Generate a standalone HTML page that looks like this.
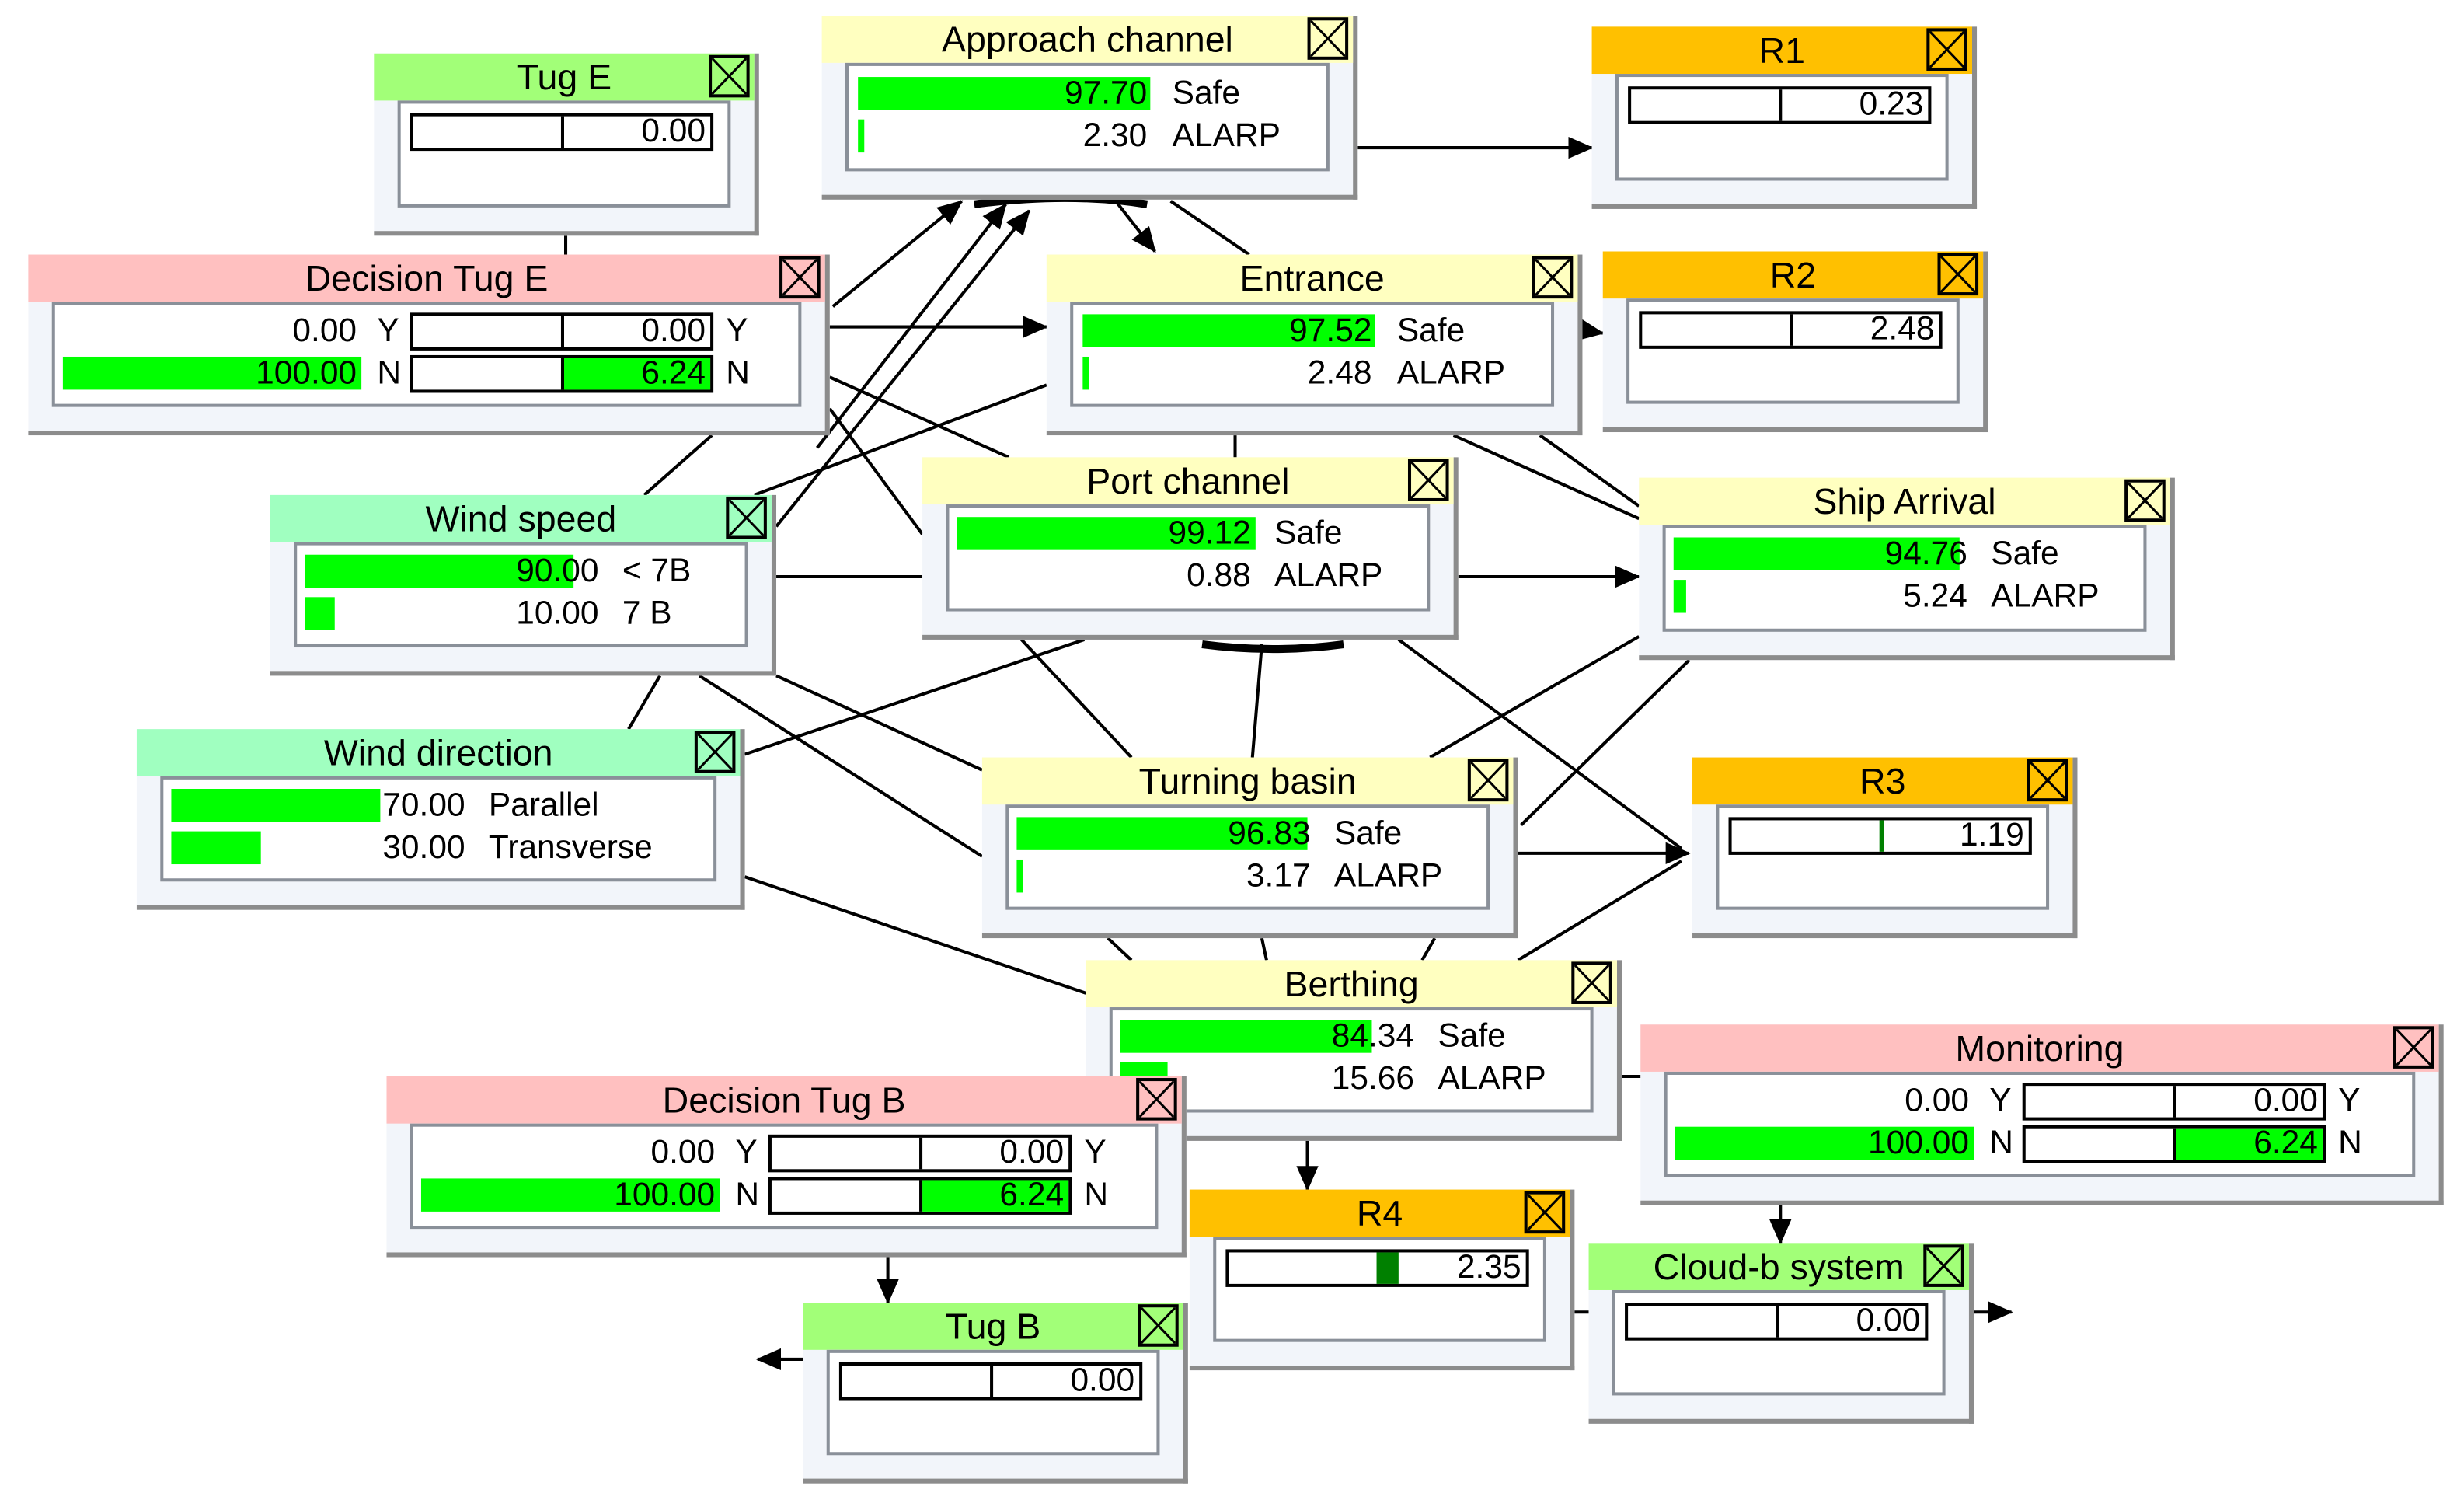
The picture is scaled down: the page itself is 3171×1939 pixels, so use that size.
<!DOCTYPE html>
<html><head><meta charset="utf-8"><style>
html,body{margin:0;padding:0;background:#fff;width:3171px;height:1939px;overflow:hidden}
#c{position:absolute;left:0;top:0;width:1568px;height:959px;transform:scale(2.0223,2.0219);transform-origin:0 0;font-family:"Liberation Sans",sans-serif;color:#000}
.n{position:absolute;background:#f2f5fa;border-right:3px solid #8c8c8c;border-bottom:3px solid #8c8c8c;box-sizing:border-box}
.t{position:absolute;left:0;right:0;top:0;height:30px;font-size:23px;line-height:30px;text-align:center;white-space:nowrap}
.x{position:absolute;right:3px;top:1px;width:26px;height:27px;border:2px solid #000;box-sizing:border-box}
.x svg{position:absolute;left:0;top:0}
.b{position:absolute;left:15px;right:15px;top:30px;bottom:15px;background:#fff;border:2px solid #8a9099;box-sizing:border-box}
.r{position:absolute;height:22px;font-size:21px;line-height:22px;white-space:nowrap}
.g{position:absolute;background:#00ff00}
.num{position:absolute;text-align:right}
.ub{position:absolute;border:2px solid #000;height:24px;box-sizing:border-box;background:#fff}
.ub .d{position:absolute;top:0;bottom:0;width:2px;background:#000}
.ub .v{position:absolute;right:3px;top:0;font-size:21px;line-height:20px}
svg.e{position:absolute;left:0;top:0}
</style></head><body><div id="c">
<svg class="e" width="1568" height="959" viewBox="0 0 1568 959">
<defs><marker id="a" markerWidth="16" markerHeight="16" refX="15" refY="8" orient="auto" markerUnits="userSpaceOnUse"><path d="M0,1 L16,8 L0,15 z" fill="#000"/></marker></defs>
<g stroke="#000" stroke-width="2" fill="none">
<line x1="360" y1="150" x2="360" y2="162"/>
<line x1="530" y1="195" x2="612" y2="128" marker-end="url(#a)"/>
<line x1="528" y1="208" x2="666" y2="208" marker-end="url(#a)"/>
<line x1="528" y1="240" x2="642" y2="291"/>
<line x1="494" y1="335" x2="655" y2="134" marker-end="url(#a)"/>
<line x1="480" y1="315" x2="666" y2="245"/>
<line x1="494" y1="367" x2="587" y2="367"/>
<line x1="410" y1="315" x2="453" y2="277"/>
<line x1="520" y1="285" x2="640" y2="130" marker-end="url(#a)"/>
<line x1="528" y1="260" x2="587" y2="340"/>
<line x1="474" y1="480" x2="690" y2="407"/>
<line x1="400" y1="464" x2="420" y2="430"/>
<line x1="445" y1="430" x2="625" y2="545"/>
<line x1="494" y1="430" x2="625" y2="490"/>
<line x1="474" y1="558" x2="691" y2="632"/>
<line x1="710" y1="128" x2="735" y2="160" marker-end="url(#a)"/>
<line x1="745" y1="128" x2="795" y2="162"/>
<line x1="864" y1="94" x2="1013" y2="94" marker-end="url(#a)"/>
<line x1="1007" y1="210" x2="1020" y2="212" marker-end="url(#a)"/>
<line x1="928" y1="367" x2="1043" y2="367" marker-end="url(#a)"/>
<line x1="925" y1="277" x2="1043" y2="330"/>
<line x1="980" y1="277" x2="1043" y2="322"/>
<line x1="786" y1="277" x2="786" y2="291"/>
<line x1="650" y1="407" x2="720" y2="482"/>
<line x1="803" y1="410" x2="797" y2="482"/>
<line x1="890" y1="407" x2="1070" y2="540"/>
<line x1="910" y1="482" x2="1043" y2="405"/>
<line x1="966" y1="543" x2="1075" y2="543" marker-end="url(#a)"/>
<line x1="968" y1="525" x2="1075" y2="420"/>
<line x1="966" y1="611" x2="1070" y2="548"/>
<line x1="705" y1="597" x2="720" y2="611"/>
<line x1="803" y1="597" x2="806" y2="611"/>
<line x1="913" y1="597" x2="905" y2="611"/>
<line x1="832" y1="726" x2="832" y2="757" marker-end="url(#a)"/>
<line x1="565" y1="800" x2="565" y2="829" marker-end="url(#a)"/>
<line x1="1133" y1="767" x2="1133" y2="791" marker-end="url(#a)"/>
<line x1="1256" y1="835" x2="1280" y2="835" marker-end="url(#a)"/>
<line x1="511" y1="865" x2="482" y2="865" marker-end="url(#a)"/>
<line x1="1002" y1="835" x2="1011" y2="835"/>
<line x1="1032" y1="685" x2="1044" y2="685"/>
</g>
<path d="M620,130 Q680,122 730,130" stroke="#000" stroke-width="5" fill="none"/>
<path d="M765,410 Q810,416 855,410" stroke="#000" stroke-width="5" fill="none"/>
</svg>

<div class="n" style="left:238px;top:34px;width:245px;height:116px"><div class="t" style="background:#a2ff78">Tug E<div class="x"><svg width="22" height="23"><path d="M0,0L22,23M22,0L0,23" stroke="#000" stroke-width="1.5"/></svg></div></div>
<div class="b"><div class="ub" style="left:6px;top:6px;width:193px"><div class="d" style="left:94px"></div><div class="v">0.00</div></div></div></div>

<div class="n" style="left:523px;top:10px;width:341px;height:117px"><div class="t" style="background:#ffffc0">Approach channel<div class="x"><svg width="22" height="23"><path d="M0,0L22,23M22,0L0,23" stroke="#000" stroke-width="1.5"/></svg></div></div>
<div class="b"><div class="g" style="left:6px;top:7px;width:186px;height:21px"></div><div class="g" style="left:6px;top:34px;width:4px;height:21px"></div>
<div class="r num" style="left:0;width:190px;top:7px">97.70</div><div class="r" style="left:206px;top:7px">Safe</div>
<div class="r num" style="left:0;width:190px;top:34px">2.30</div><div class="r" style="left:206px;top:34px">ALARP</div></div></div>

<div class="n" style="left:1013px;top:17px;width:245px;height:116px"><div class="t" style="background:#ffc000">R1<div class="x"><svg width="22" height="23"><path d="M0,0L22,23M22,0L0,23" stroke="#000" stroke-width="1.5"/></svg></div></div>
<div class="b"><div class="ub" style="left:6px;top:6px;width:193px"><div class="d" style="left:94px"></div><div class="v">0.23</div></div></div></div>

<div class="n" style="left:18px;top:162px;width:510px;height:115px"><div class="t" style="background:#ffc0c0">Decision Tug E<div class="x"><svg width="22" height="23"><path d="M0,0L22,23M22,0L0,23" stroke="#000" stroke-width="1.5"/></svg></div></div>
<div class="b"><div class="g" style="left:5px;top:33px;width:190px;height:21px"></div>
<div class="r num" style="left:0;width:192px;top:6px">0.00</div><div class="r" style="left:205px;top:6px">Y</div>
<div class="r num" style="left:0;width:192px;top:33px">100.00</div><div class="r" style="left:205px;top:33px">N</div>
<div class="ub" style="left:226px;top:5px;width:193px"><div class="d" style="left:94px"></div><div class="v">0.00</div></div>
<div class="ub" style="left:226px;top:32px;width:193px"><div class="g" style="left:96px;top:0;right:0;bottom:0"></div><div class="d" style="left:94px"></div><div class="v">6.24</div></div>
<div class="r" style="left:427px;top:6px">Y</div><div class="r" style="left:427px;top:33px">N</div></div></div>

<div class="n" style="left:666px;top:162px;width:341px;height:115px"><div class="t" style="background:#ffffc0">Entrance<div class="x"><svg width="22" height="23"><path d="M0,0L22,23M22,0L0,23" stroke="#000" stroke-width="1.5"/></svg></div></div>
<div class="b"><div class="g" style="left:6px;top:6px;width:186px;height:21px"></div><div class="g" style="left:6px;top:33px;width:4px;height:21px"></div>
<div class="r num" style="left:0;width:190px;top:6px">97.52</div><div class="r" style="left:206px;top:6px">Safe</div>
<div class="r num" style="left:0;width:190px;top:33px">2.48</div><div class="r" style="left:206px;top:33px">ALARP</div></div></div>

<div class="n" style="left:1020px;top:160px;width:245px;height:115px"><div class="t" style="background:#ffc000">R2<div class="x"><svg width="22" height="23"><path d="M0,0L22,23M22,0L0,23" stroke="#000" stroke-width="1.5"/></svg></div></div>
<div class="b"><div class="ub" style="left:6px;top:6px;width:193px"><div class="d" style="left:94px"></div><div class="v">2.48</div></div></div></div>

<div class="n" style="left:172px;top:315px;width:322px;height:115px"><div class="t" style="background:#a0ffc0">Wind speed<div class="x"><svg width="22" height="23"><path d="M0,0L22,23M22,0L0,23" stroke="#000" stroke-width="1.5"/></svg></div></div>
<div class="b"><div class="g" style="left:5px;top:6px;width:171px;height:21px"></div><div class="g" style="left:5px;top:33px;width:19px;height:21px"></div>
<div class="r num" style="left:0;width:192px;top:6px">90.00</div><div class="r" style="left:207px;top:6px">&lt; 7B</div>
<div class="r num" style="left:0;width:192px;top:33px">10.00</div><div class="r" style="left:207px;top:33px">7 B</div></div></div>

<div class="n" style="left:587px;top:291px;width:341px;height:116px"><div class="t" style="background:#ffffc0">Port channel<div class="x"><svg width="22" height="23"><path d="M0,0L22,23M22,0L0,23" stroke="#000" stroke-width="1.5"/></svg></div></div>
<div class="b"><div class="g" style="left:5px;top:6px;width:190px;height:21px"></div>
<div class="r num" style="left:0;width:192px;top:6px">99.12</div><div class="r" style="left:207px;top:6px">Safe</div>
<div class="r num" style="left:0;width:192px;top:33px">0.88</div><div class="r" style="left:207px;top:33px">ALARP</div></div></div>

<div class="n" style="left:1043px;top:304px;width:341px;height:116px"><div class="t" style="background:#ffffc0">Ship Arrival<div class="x"><svg width="22" height="23"><path d="M0,0L22,23M22,0L0,23" stroke="#000" stroke-width="1.5"/></svg></div></div>
<div class="b"><div class="g" style="left:5px;top:6px;width:182px;height:21px"></div><div class="g" style="left:5px;top:33px;width:8px;height:21px"></div>
<div class="r num" style="left:0;width:192px;top:6px">94.76</div><div class="r" style="left:207px;top:6px">Safe</div>
<div class="r num" style="left:0;width:192px;top:33px">5.24</div><div class="r" style="left:207px;top:33px">ALARP</div></div></div>

<div class="n" style="left:87px;top:464px;width:387px;height:115px"><div class="t" style="background:#a0ffc0">Wind direction<div class="x"><svg width="22" height="23"><path d="M0,0L22,23M22,0L0,23" stroke="#000" stroke-width="1.5"/></svg></div></div>
<div class="b"><div class="g" style="left:5px;top:6px;width:133px;height:21px"></div><div class="g" style="left:5px;top:33px;width:57px;height:21px"></div>
<div class="r num" style="left:0;width:192px;top:6px">70.00</div><div class="r" style="left:207px;top:6px">Parallel</div>
<div class="r num" style="left:0;width:192px;top:33px">30.00</div><div class="r" style="left:207px;top:33px">Transverse</div></div></div>

<div class="n" style="left:625px;top:482px;width:341px;height:115px"><div class="t" style="background:#ffffc0">Turning basin<div class="x"><svg width="22" height="23"><path d="M0,0L22,23M22,0L0,23" stroke="#000" stroke-width="1.5"/></svg></div></div>
<div class="b"><div class="g" style="left:5px;top:6px;width:185px;height:21px"></div><div class="g" style="left:5px;top:33px;width:4px;height:21px"></div>
<div class="r num" style="left:0;width:192px;top:6px">96.83</div><div class="r" style="left:207px;top:6px">Safe</div>
<div class="r num" style="left:0;width:192px;top:33px">3.17</div><div class="r" style="left:207px;top:33px">ALARP</div></div></div>

<div class="n" style="left:1077px;top:482px;width:245px;height:115px"><div class="t" style="background:#ffc000">R3<div class="x"><svg width="22" height="23"><path d="M0,0L22,23M22,0L0,23" stroke="#000" stroke-width="1.5"/></svg></div></div>
<div class="b"><div class="ub" style="left:6px;top:6px;width:193px"><div class="d" style="left:94px;background:#008000;width:3px"></div><div class="v">1.19</div></div></div></div>

<div class="n" style="left:691px;top:611px;width:341px;height:115px"><div class="t" style="background:#ffffc0">Berthing<div class="x"><svg width="22" height="23"><path d="M0,0L22,23M22,0L0,23" stroke="#000" stroke-width="1.5"/></svg></div></div>
<div class="b"><div class="g" style="left:5px;top:6px;width:160px;height:21px"></div><div class="g" style="left:5px;top:33px;width:30px;height:21px"></div>
<div class="r num" style="left:0;width:192px;top:6px">84.34</div><div class="r" style="left:207px;top:6px">Safe</div>
<div class="r num" style="left:0;width:192px;top:33px">15.66</div><div class="r" style="left:207px;top:33px">ALARP</div></div></div>

<div class="n" style="left:1044px;top:652px;width:511px;height:115px"><div class="t" style="background:#ffc0c0">Monitoring<div class="x"><svg width="22" height="23"><path d="M0,0L22,23M22,0L0,23" stroke="#000" stroke-width="1.5"/></svg></div></div>
<div class="b"><div class="g" style="left:5px;top:33px;width:190px;height:21px"></div>
<div class="r num" style="left:0;width:192px;top:6px">0.00</div><div class="r" style="left:205px;top:6px">Y</div>
<div class="r num" style="left:0;width:192px;top:33px">100.00</div><div class="r" style="left:205px;top:33px">N</div>
<div class="ub" style="left:226px;top:5px;width:193px"><div class="d" style="left:94px"></div><div class="v">0.00</div></div>
<div class="ub" style="left:226px;top:32px;width:193px"><div class="g" style="left:96px;top:0;right:0;bottom:0"></div><div class="d" style="left:94px"></div><div class="v">6.24</div></div>
<div class="r" style="left:427px;top:6px">Y</div><div class="r" style="left:427px;top:33px">N</div></div></div>

<div class="n" style="left:246px;top:685px;width:509px;height:115px"><div class="t" style="background:#ffc0c0">Decision Tug B<div class="x"><svg width="22" height="23"><path d="M0,0L22,23M22,0L0,23" stroke="#000" stroke-width="1.5"/></svg></div></div>
<div class="b"><div class="g" style="left:5px;top:33px;width:190px;height:21px"></div>
<div class="r num" style="left:0;width:192px;top:6px">0.00</div><div class="r" style="left:205px;top:6px">Y</div>
<div class="r num" style="left:0;width:192px;top:33px">100.00</div><div class="r" style="left:205px;top:33px">N</div>
<div class="ub" style="left:226px;top:5px;width:193px"><div class="d" style="left:94px"></div><div class="v">0.00</div></div>
<div class="ub" style="left:226px;top:32px;width:193px"><div class="g" style="left:96px;top:0;right:0;bottom:0"></div><div class="d" style="left:94px"></div><div class="v">6.24</div></div>
<div class="r" style="left:427px;top:6px">Y</div><div class="r" style="left:427px;top:33px">N</div></div></div>

<div class="n" style="left:757px;top:757px;width:245px;height:115px"><div class="t" style="background:#ffc000">R4<div class="x"><svg width="22" height="23"><path d="M0,0L22,23M22,0L0,23" stroke="#000" stroke-width="1.5"/></svg></div></div>
<div class="b"><div class="ub" style="left:6px;top:6px;width:193px"><div class="d" style="left:94px;width:14px;background:#008000"></div><div class="v">2.35</div></div></div></div>

<div class="n" style="left:1011px;top:791px;width:245px;height:115px"><div class="t" style="background:#a2ff78">Cloud-b system<div class="x"><svg width="22" height="23"><path d="M0,0L22,23M22,0L0,23" stroke="#000" stroke-width="1.5"/></svg></div></div>
<div class="b"><div class="ub" style="left:6px;top:6px;width:193px"><div class="d" style="left:94px"></div><div class="v">0.00</div></div></div></div>

<div class="n" style="left:511px;top:829px;width:245px;height:115px"><div class="t" style="background:#a2ff78">Tug B<div class="x"><svg width="22" height="23"><path d="M0,0L22,23M22,0L0,23" stroke="#000" stroke-width="1.5"/></svg></div></div>
<div class="b"><div class="ub" style="left:6px;top:6px;width:193px"><div class="d" style="left:94px"></div><div class="v">0.00</div></div></div></div>

</div></body></html>
